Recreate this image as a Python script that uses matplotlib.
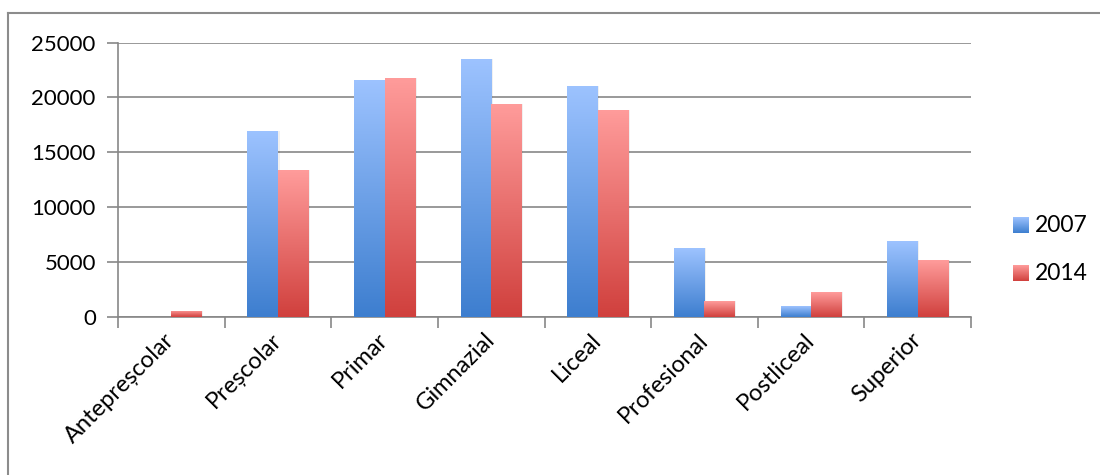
import numpy as np
import matplotlib
matplotlib.use('Agg')
import matplotlib.pyplot as plt
from matplotlib.colors import LinearSegmentedColormap
from matplotlib.patches import Rectangle
from matplotlib.lines import Line2D

plt.rcParams['font.family'] = ['Lato', 'DejaVu Sans']

# date
categorii = ['Antepreșcolar', 'Preșcolar', 'Primar', 'Gimnazial', 'Liceal',
             'Profesional', 'Postliceal', 'Superior']
ani = ['2007', '2014']
val_2007 = [0, 16950, 21600, 23500, 21050, 6280, 980, 6900]
val_2014 = [550, 13380, 21780, 19400, 18860, 1430, 2250, 5170]

culori = {
    '2007': ('#3d7ecf', '#9dc3ff'),  # jos, sus
    '2014': ('#d0403d', '#ff9c9b'),
}

fig = plt.figure(figsize=(11, 4.75), dpi=100)
ax = fig.add_axes([0.1073, 0.3326, 0.7754, 0.5779])

# chenar exterior (doar stanga si sus se vad)
fig.add_artist(Line2D([8 / 1100, 8 / 1100], [0, 1 - 13 / 475], transform=fig.transFigure,
                      color='#8c8c8c', lw=1.5))
fig.add_artist(Line2D([8 / 1100, 1], [1 - 13 / 475, 1 - 13 / 475], transform=fig.transFigure,
                      color='#8c8c8c', lw=1.5))

x = np.arange(len(categorii))
w = 1 / 1.75 / 2
grad = np.linspace(0, 1, 256).reshape(-1, 1)

for i, (an, vals) in enumerate(zip(ani, [val_2007, val_2014])):
    jos, sus = culori[an]
    cmap = LinearSegmentedColormap.from_list(an, [jos, sus])
    bars = ax.bar(x + (i - 0.5) * w, vals, w, color='none', zorder=3)
    for b in bars:
        bx, by = b.get_x(), b.get_y()
        bw, bh = b.get_width(), b.get_height()
        if bh <= 0:
            continue
        # umbra discreta
        ax.add_patch(Rectangle((bx + 0.015, by), bw, bh, color='#000000', alpha=0.06,
                               zorder=2, lw=0))
        im = ax.imshow(grad, cmap=cmap, origin='lower', aspect='auto',
                       extent=(bx, bx + bw, by, by + bh), zorder=3)
        im.set_clip_path(b)

ax.set_xlim(-0.5, len(categorii) - 0.5)
ax.set_ylim(0, 25000)
ax.set_yticks(np.arange(0, 25001, 5000))
ax.grid(axis='y', color='#878787', lw=1.2, zorder=1)
ax.set_axisbelow(True)

ax.set_xticks(np.arange(-0.5, len(categorii), 1))
ax.set_xticklabels([])
ax.set_xticks(x, minor=True)
ax.set_xticklabels(categorii, minor=True, rotation=45, ha='right', va='center',
                   rotation_mode='anchor', fontsize=17)
ax.tick_params(axis='x', which='minor', length=0, pad=14)
ax.tick_params(axis='x', which='major', length=8, width=1.2, color='#878787')
ax.tick_params(axis='y', length=8, width=1.2, color='#878787', labelsize=16, pad=8)

for s in ['top', 'right']:
    ax.spines[s].set_visible(False)
for s in ['left', 'bottom']:
    ax.spines[s].set_color('#878787')
    ax.spines[s].set_linewidth(1.2)

# legenda cu patrate in degrade
for i, an in enumerate(ani):
    jos, sus = culori[an]
    cmap = LinearSegmentedColormap.from_list(an + 'l', [jos, sus])
    y0 = 1 - (217 + i * 48) / 475
    lax = fig.add_axes([1013 / 1100, y0 - 16 / 475, 16 / 1100, 16 / 475])
    lax.imshow(grad, cmap=cmap, origin='lower', aspect='auto')
    lax.axis('off')
    fig.text(1035 / 1100, y0 - 8 / 475, an, fontsize=16.5, va='center', ha='left')

fig.savefig('out.png', dpi=100)
